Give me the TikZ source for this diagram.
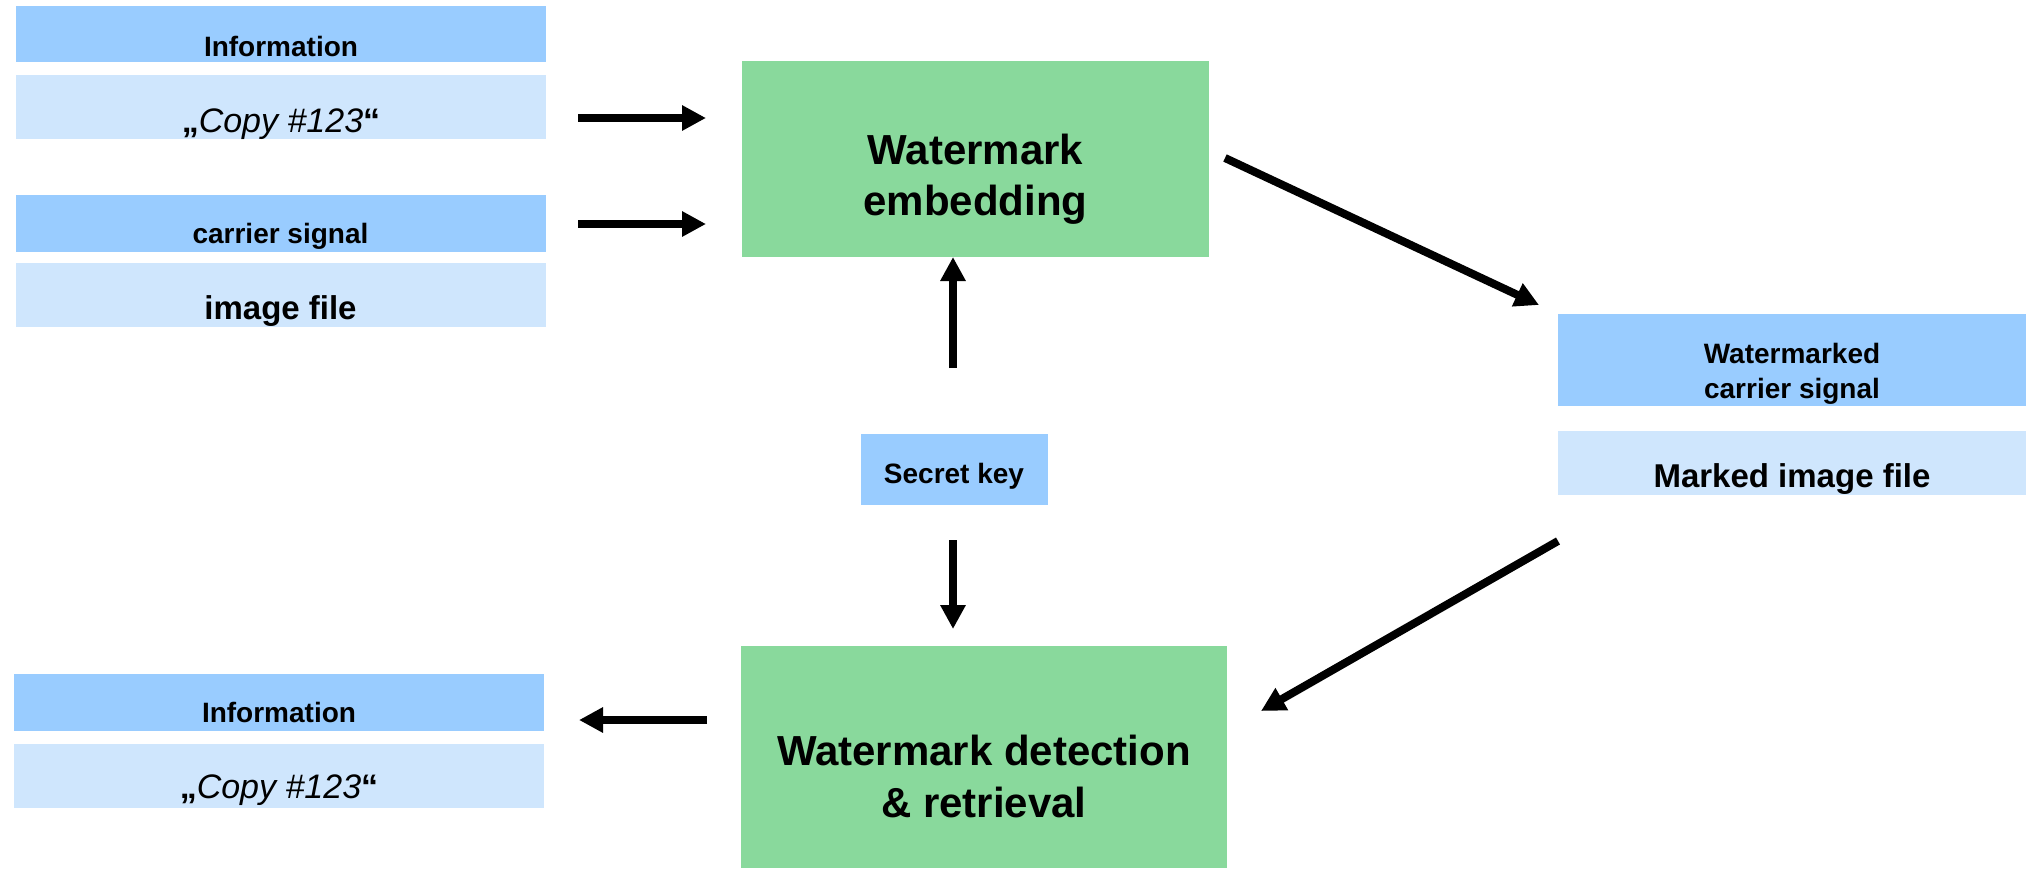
\documentclass[tikz,border=0pt]{standalone}
\usepackage{fontspec}
\setmainfont{Liberation Sans}
\usetikzlibrary{arrows.meta}
\definecolor{hdrblue}{RGB}{153,204,255}
\definecolor{lightblue}{RGB}{207,230,253}
\definecolor{boxgreen}{RGB}{137,217,156}
\tikzset{
  box/.style={draw=none, inner sep=0pt, outer sep=0pt},
  hdr/.style={box, fill=hdrblue},
  val/.style={box, fill=lightblue},
  proc/.style={box, fill=boxgreen},
  txt/.style={anchor=base, inner sep=0pt, align=center},
  small/.style={font=\bfseries\fontsize{28}{34}\selectfont},
  mid/.style={font=\bfseries\fontsize{33}{40}\selectfont},
  big/.style={font=\bfseries\fontsize{42}{51}\selectfont},
  copyt/.style={font=\fontsize{34}{40}\selectfont},
  arr/.style={line width=8pt, -{Triangle[length=24pt,width=24pt]}}
}
\begin{document}
\begin{tikzpicture}[x=1pt,y=-1pt]
\useasboundingbox (0,0) rectangle (2028,870);
% left top group
\node[hdr, minimum width=530, minimum height=56] (info1) at (281,34) {};
\node[txt, small] (info1t) at (281,56) {Information};
\node[val, minimum width=530, minimum height=64] (copy1) at (281,107) {};
\node[txt, copyt] (copy1t) at (281,132) {{\bfseries „}\textit{Copy \#123}{\bfseries “}};
\node[hdr, minimum width=530, minimum height=57] (car) at (280.5,223.5) {};
\node[txt, small] (cart) at (280.5,243) {carrier signal};
\node[val, minimum width=530, minimum height=64] (img) at (280.5,295) {};
\node[txt, mid] (imgt) at (280.5,319) {image file};
% embedding
\node[proc, minimum width=467, minimum height=196] (emb) at (975.5,159) {};
\node[txt, big] (embt1) at (975.5,164) {Watermark};
\node[txt, big] (embt2) at (975.5,215) {embedding};
% secret key
\node[hdr, minimum width=187, minimum height=71] (key) at (954,469.5) {};
\node[txt, small] (keyt) at (954,483) {Secret key};
% right group
\node[hdr, minimum width=468, minimum height=92] (wm) at (1792,360) {};
\node[txt, small] (wmt1) at (1792,363) {Watermarked};
\node[txt, small] (wmt2) at (1792,398) {carrier signal};
\node[val, minimum width=468, minimum height=64] (mk) at (1792,463) {};
\node[txt, mid] (mkt) at (1792,487) {Marked image file};
% detection
\node[proc, minimum width=486, minimum height=222] (det) at (984,757) {};
\node[txt, big] (dett1) at (984,765) {Watermark detection};
\node[txt, big] (dett2) at (984,817) {\& retrieval};
% left bottom group
\node[hdr, minimum width=530, minimum height=57] (info2) at (279,702.5) {};
\node[txt, small] (info2t) at (279,722) {Information};
\node[val, minimum width=530, minimum height=64] (copy2) at (279,776) {};
\node[txt, copyt] (copy2t) at (279,798) {{\bfseries „}\textit{Copy \#123}{\bfseries “}};
% arrow end points
\coordinate (a1s) at (578,118);
\coordinate (a1e) at (706,118);
\coordinate (a2s) at (578,224);
\coordinate (a2e) at (706,224);
\coordinate (a3s) at (953,368);
\coordinate (a3e) at (953,257);
\coordinate (a4s) at (953,540);
\coordinate (a4e) at (953,629);
\coordinate (a5s) at (1225,158);
\coordinate (a5e) at (1539,305);
\coordinate (a6s) at (1558,541);
\coordinate (a6e) at (1261,711);
\coordinate (a7s) at (707,720);
\coordinate (a7e) at (579,720);
\draw[arr] (a1s) -- (a1e);
\draw[arr] (a2s) -- (a2e);
\draw[arr] (a3s) -- (a3e);
\draw[arr] (a4s) -- (a4e);
\draw[arr] (a5s) -- (a5e);
\draw[arr] (a6s) -- (a6e);
\draw[arr] (a7s) -- (a7e);
\end{tikzpicture}
\end{document}
